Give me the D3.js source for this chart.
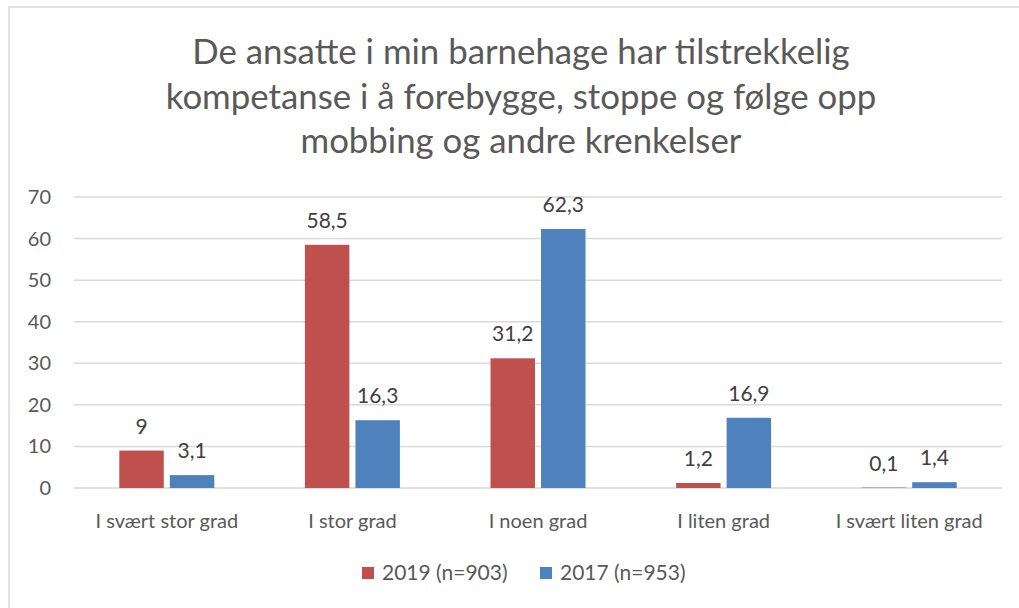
<!DOCTYPE html>
<html><head><meta charset="utf-8">
<script src="https://cdn.jsdelivr.net/npm/d3@7"></script>
<style>body{margin:0;background:#fff;} svg{display:block;}</style>
</head><body>
<svg id="c" width="1019" height="608"></svg>
<script>
const titleLines = ["De ansatte i min barnehage har tilstrekkelig","kompetanse i å forebygge, stoppe og følge opp","mobbing og andre krenkelser"];
const categories = ["I svært stor grad","I stor grad","I noen grad","I liten grad","I svært liten grad"];
const seriesNames = ["2019 (n=903)","2017 (n=953)"];
const values2019 = [9, 58.5, 31.2, 1.2, 0.1];
const values2017 = [3.1, 16.3, 62.3, 16.9, 1.4];
const yTicks = [0,10,20,30,40,50,60,70];
const colors = ["#C0504D","#4F81BD"];
const font = "Lato, 'Open Sans', sans-serif";

const svg = d3.select("#c");
svg.append("rect").attr("x",9).attr("y",7).attr("width",1030).attr("height",620)
  .attr("fill","#fff").attr("stroke","#d9d9d9").attr("stroke-width",1.5);

const x0 = d3.scaleBand().domain(categories).range([74,1002]).paddingInner(0).paddingOuter(0);
const y = d3.scaleLinear().domain([0,70]).range([488,197]);
const inner = d3.scaleBand().domain([0,1]).range([0,95]).paddingInner(0.12);

// title
svg.append("g").selectAll("text").data(titleLines).join("text")
  .attr("x",521).attr("y",(d,i)=>64+i*44.5).attr("text-anchor","middle")
  .attr("font-family",font).attr("font-size",34.8).attr("fill","#595959").text(d=>d);

// gridlines
svg.append("g").selectAll("line").data(yTicks).join("line")
  .attr("x1",74).attr("x2",1002).attr("y1",d=>y(d)).attr("y2",d=>y(d))
  .attr("stroke","#d9d9d9").attr("stroke-width",1.5);

// y labels
svg.append("g").selectAll("text").data(yTicks).join("text")
  .attr("x",51).attr("y",d=>y(d)+7).attr("text-anchor","end")
  .attr("font-family",font).attr("font-size",20).attr("fill","#595959").text(d=>d);

const series = [values2019, values2017];
series.forEach((vals,s)=>{
  const g = svg.append("g");
  g.selectAll("rect").data(vals).join("rect")
    .attr("x",(d,i)=>x0(categories[i]) + (x0.bandwidth()-95)/2 + inner(s))
    .attr("width",inner.bandwidth())
    .attr("y",d=>y(d)).attr("height",d=>Math.max(0,y(0)-y(d)))
    .attr("fill",colors[s]);
  g.selectAll("text").data(vals).join("text")
    .attr("x",(d,i)=>x0(categories[i]) + (x0.bandwidth()-95)/2 + inner(s) + inner.bandwidth()/2)
    .attr("y",d=>y(d)-17).attr("text-anchor","middle")
    .attr("font-family",font).attr("font-size",21).attr("fill","#404040")
    .text(d=>String(d).replace(".",","));
});

// category labels
svg.append("g").selectAll("text").data(categories).join("text")
  .attr("x",d=>x0(d)+x0.bandwidth()/2).attr("y",528).attr("text-anchor","middle")
  .attr("font-family",font).attr("font-size",20).attr("fill","#595959").text(d=>d);

// legend
const leg = [{x:362,tx:382},{x:540,tx:560}];
seriesNames.forEach((n,i)=>{
  svg.append("rect").attr("x",leg[i].x).attr("y",567).attr("width",12).attr("height",12).attr("fill",colors[i]);
  svg.append("text").attr("x",leg[i].tx).attr("y",580).attr("font-family",font).attr("font-size",21)
    .attr("fill","#595959").text(n);
});
</script>
</body></html>
